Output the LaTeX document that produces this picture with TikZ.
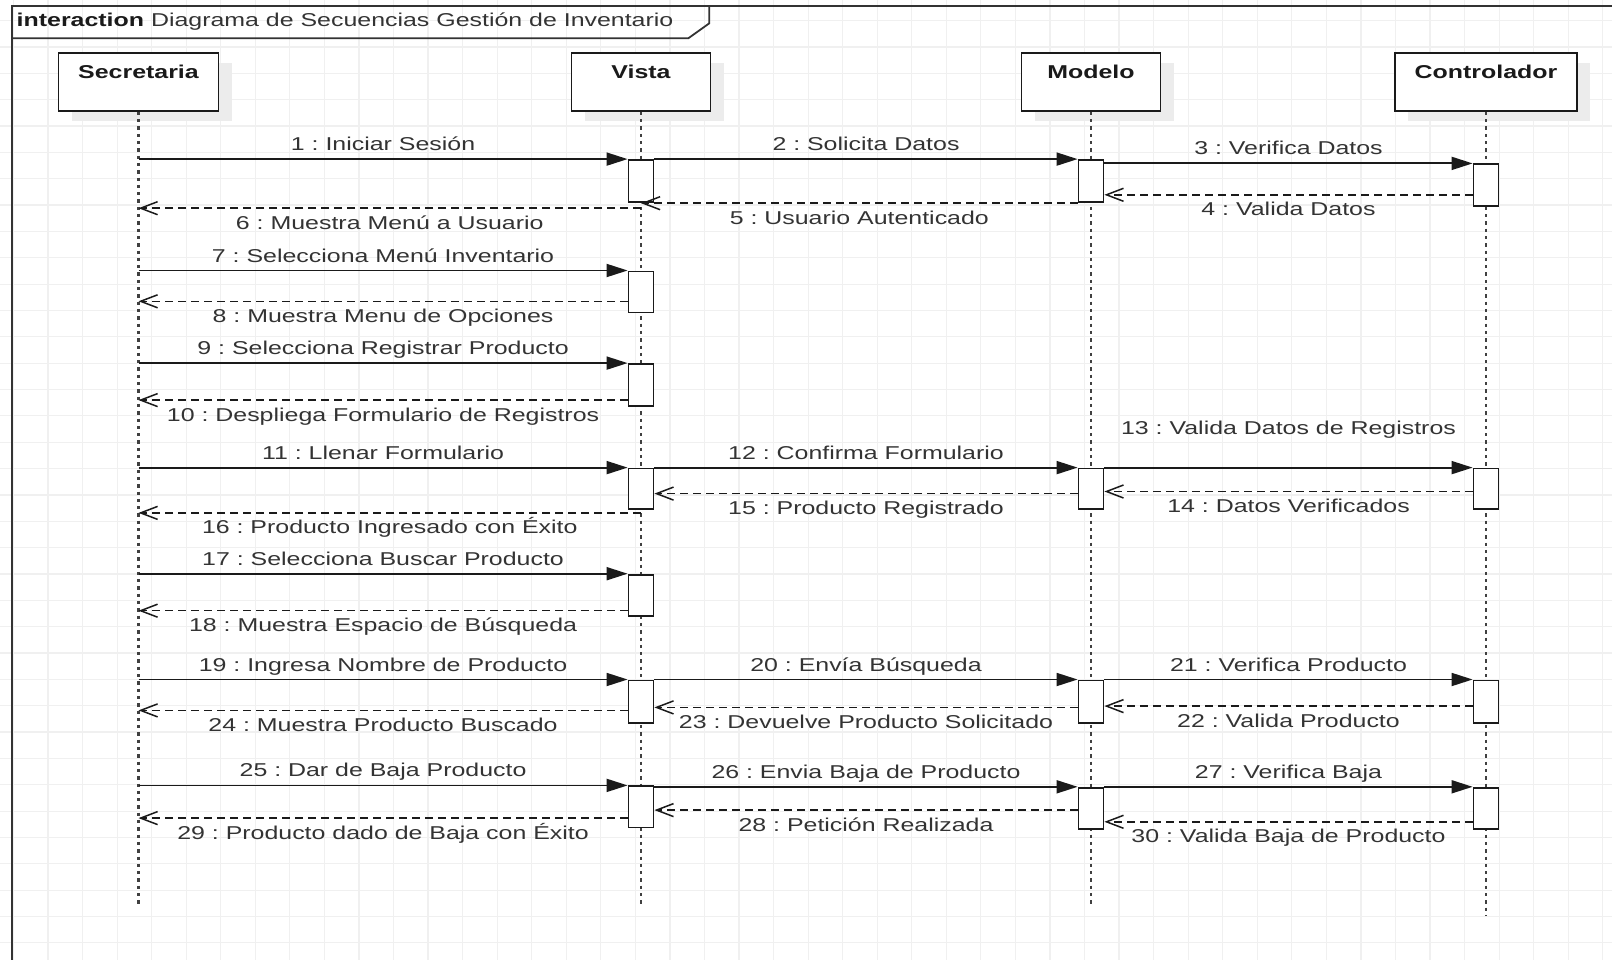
\documentclass[tikz,border=0pt]{standalone}
\usepackage{fontspec}
\setmainfont{Liberation Sans}[FakeStretch=1.34]
\usetikzlibrary{arrows.meta,shadows}
\definecolor{gridc}{HTML}{F0F0F0}
\definecolor{ink}{HTML}{1A1A1A}
\definecolor{txt}{HTML}{333333}
\definecolor{shade}{HTML}{ECECEC}
\definecolor{lifec}{HTML}{404040}
\frenchspacing

\begin{document}
\begin{tikzpicture}[x=1pt,y=-1pt,
  gridline/.style={draw=gridc,line width=1.2pt},
  frameline/.style={draw=txt,line width=1.8pt},
  headbox/.style={draw=ink,line width=1.8pt,fill=white,inner sep=0pt,minimum height=57.7pt,
    drop shadow={shadow xshift=13.4pt,shadow yshift=-10pt,fill=shade,opacity=1}},
  hname/.style={font=\bfseries\fontsize{18.6}{22}\selectfont,text=ink,inner sep=0pt,anchor=base},
  life/.style={draw=lifec,line width=2.2pt,dash pattern=on 3.3pt off 4pt},
  actbox/.style={draw=ink,line width=1.8pt,fill=white,inner sep=0pt,minimum width=25pt},
  call/.style={draw=ink,line width=1.8pt,-{Triangle[length=21pt,width=13pt]}},
  reply/.style={draw=ink,line width=1.5pt,dash pattern=on 8pt off 5pt,-{Straight Barb[length=17pt,width=13pt]}},
  lab/.style={font=\fontsize{18.6}{22}\selectfont,text=txt,inner sep=0pt,anchor=base,midway},
  labup/.style={lab,yshift=8.5pt},
  labdn/.style={lab,yshift=-21pt},
]
\useasboundingbox (0,0) rectangle (1612,960);

% canvas grid
\foreach \i in {0,...,46}{\draw[gridline] ({13.45+34.55*\i},0) -- ({13.45+34.55*\i},960);}
\foreach \j in {0,...,35}{\draw[gridline] (0,{20.6+26.35*\j}) -- (1612,{20.6+26.35*\j});}

% interaction frame and its name tab
\draw[frameline] (12,960) -- (12,6) -- (1612,6);
\draw[frameline] (12,38.3) -- (688.3,38.3) -- (709.3,23.3) -- (709.3,6);
\node[anchor=base west,inner sep=0pt,font=\fontsize{18.6}{22}\selectfont,text=txt] (title) at (16.5,27)
  {\textcolor{ink}{\bfseries interaction} Diagrama de Secuencias Gestión de Inventario};

% lifeline heads
\node[headbox,minimum width=160pt] (sec) at (138.5,82.15) {};
\node[headbox,minimum width=139pt] (vis) at (641,82.15) {};
\node[headbox,minimum width=139pt] (mod) at (1091,82.15) {};
\node[headbox,minimum width=182pt] (ctl) at (1486,82.15) {};
\node[hname] (secN) at (138.5,79) {Secretaria};
\node[hname] (visN) at (641,79) {Vista};
\node[hname] (modN) at (1091,79) {Modelo};
\node[hname] (ctlN) at (1486,79) {Controlador};

% lifelines
\coordinate (secEnd) at (138.5,906);
\coordinate (visEnd) at (641,906);
\coordinate (modEnd) at (1091,906);
\coordinate (ctlEnd) at (1486,915);
\draw[life] (sec.south) -- (secEnd);
\draw[life] (vis.south) -- (visEnd);
\draw[life] (mod.south) -- (modEnd);
\draw[life] (ctl.south) -- (ctlEnd);

% activation bars
\node[actbox,minimum height=41.7pt] (va1) at (641,180.85) {};
\node[actbox,minimum height=41.1pt] (va2) at (641,291.95) {};
\node[actbox,minimum height=42pt]   (va3) at (641,385) {};
\node[actbox,minimum height=40.8pt] (va4) at (641,488.9) {};
\node[actbox,minimum height=41.1pt] (va5) at (641,595.15) {};
\node[actbox,minimum height=42.2pt] (va6) at (641,701.5) {};
\node[actbox,minimum height=41.2pt] (va7) at (641,806.9) {};
\node[actbox,minimum height=41.7pt] (ma1) at (1091,180.85) {};
\node[actbox,minimum height=40.8pt] (ma4) at (1091,488.9) {};
\node[actbox,minimum height=42.2pt] (ma6) at (1091,701.5) {};
\node[actbox,minimum height=41.3pt] (ma7) at (1091,808.35) {};
\node[actbox,minimum height=41.7pt] (ca1) at (1486,185.15) {};
\node[actbox,minimum height=40.8pt] (ca4) at (1486,488.9) {};
\node[actbox,minimum height=42.2pt] (ca6) at (1486,701.5) {};
\node[actbox,minimum height=41.3pt] (ca7) at (1486,808.35) {};

% login
\draw[call] (va1.north west -| sec) -- (va1.north west) node[labup] (l1) {1 : Iniciar Sesión};
\draw[call] (va1.north east) -- (ma1.north west) node[labup] (l2) {2 : Solicita Datos};
\draw[call] (ma1.north east |- ca1.north west) -- (ca1.north west) node[labup] (l3) {3 : Verifica Datos};
\coordinate (r4) at ([yshift=-31.4pt]ca1.north west);
\draw[reply] (r4) -- (r4 -| ma1.east) node[labdn] (l4) {4 : Valida Datos};
\coordinate (r5) at ([yshift=-0.6pt]ma1.south west);
\draw[reply] (r5) -- (r5 -| vis) node[labdn] (l5) {5 : Usuario Autenticado};
\coordinate (r6) at ([yshift=-5.6pt]va1.south);
\draw[reply] (r6) -- (r6 -| sec) node[labdn] (l6) {6 : Muestra Menú a Usuario};

% inventory menu
\draw[call] (va2.north west -| sec) -- (va2.north west) node[labup] (l7) {7 : Selecciona Menú Inventario};
\coordinate (r8) at ([yshift=-30.8pt]va2.north west);
\draw[reply] (r8) -- (r8 -| sec) node[labdn] (l8) {8 : Muestra Menu de Opciones};

% register product
\draw[call] (va3.north west -| sec) -- (va3.north west) node[labup] (l9) {9 : Selecciona Registrar Producto};
\coordinate (r10) at ([yshift=-37pt]va3.north west);
\draw[reply] (r10) -- (r10 -| sec) node[labdn] (l10) {10 : Despliega Formulario de Registros};

\draw[call] (va4.north west -| sec) -- (va4.north west) node[labup] (l11) {11 : Llenar Formulario};
\draw[call] (va4.north east) -- (ma4.north west) node[labup] (l12) {12 : Confirma Formulario};
\draw[call] (ma4.north east) -- (ca4.north west) node[lab,yshift=33pt] (l13) {13 : Valida Datos de Registros};
\coordinate (r14) at ([yshift=-23.9pt]ca4.north west);
\draw[reply] (r14) -- (r14 -| ma4.east) node[labdn] (l14) {14 : Datos Verificados};
\coordinate (r15) at ([yshift=-26pt]ma4.north west);
\draw[reply] (r15) -- (r15 -| va4.east) node[labdn] (l15) {15 : Producto Registrado};
\coordinate (r16) at ([yshift=-2.7pt]va4.south);
\draw[reply] (r16) -- (r16 -| sec) node[labdn] (l16) {16 : Producto Ingresado con Éxito};

% search product
\draw[call] (va5.north west -| sec) -- (va5.north west) node[labup] (l17) {17 : Selecciona Buscar Producto};
\coordinate (r18) at ([yshift=-37pt]va5.north west);
\draw[reply] (r18) -- (r18 -| sec) node[labdn] (l18) {18 : Muestra Espacio de Búsqueda};

\draw[call] (va6.north west -| sec) -- (va6.north west) node[labup] (l19) {19 : Ingresa Nombre de Producto};
\draw[call] (va6.north east) -- (ma6.north west) node[labup] (l20) {20 : Envía Búsqueda};
\draw[call] (ma6.north east) -- (ca6.north west) node[labup] (l21) {21 : Verifica Producto};
\coordinate (r22) at ([yshift=-26.6pt]ca6.north west);
\draw[reply] (r22) -- (r22 -| ma6.east) node[labdn] (l22) {22 : Valida Producto};
\coordinate (r23) at ([yshift=-27.9pt]ma6.north west);
\draw[reply] (r23) -- (r23 -| va6.east) node[labdn] (l23) {23 : Devuelve Producto Solicitado};
\coordinate (r24) at ([yshift=-30.9pt]va6.north west);
\draw[reply] (r24) -- (r24 -| sec) node[labdn] (l24) {24 : Muestra Producto Buscado};

% remove product
\draw[call] (va7.north west -| sec) -- (va7.north west) node[labup] (l25) {25 : Dar de Baja Producto};
\draw[call] (va7.north east |- ma7.north west) -- (ma7.north west) node[labup] (l26) {26 : Envia Baja de Producto};
\draw[call] (ma7.north east) -- (ca7.north west) node[labup] (l27) {27 : Verifica Baja};
\coordinate (r28) at ([yshift=-23.3pt]ma7.north west);
\draw[reply] (r28) -- (r28 -| va7.east) node[labdn] (l28) {28 : Petición Realizada};
\coordinate (r29) at ([yshift=-32.7pt]va7.north west);
\draw[reply] (r29) -- (r29 -| sec) node[labdn] (l29) {29 : Producto dado de Baja con Éxito};
\coordinate (r30) at ([yshift=-35pt]ca7.north west);
\draw[reply] (r30) -- (r30 -| ma7.east) node[labdn] (l30) {30 : Valida Baja de Producto};
\end{tikzpicture}
\end{document}
